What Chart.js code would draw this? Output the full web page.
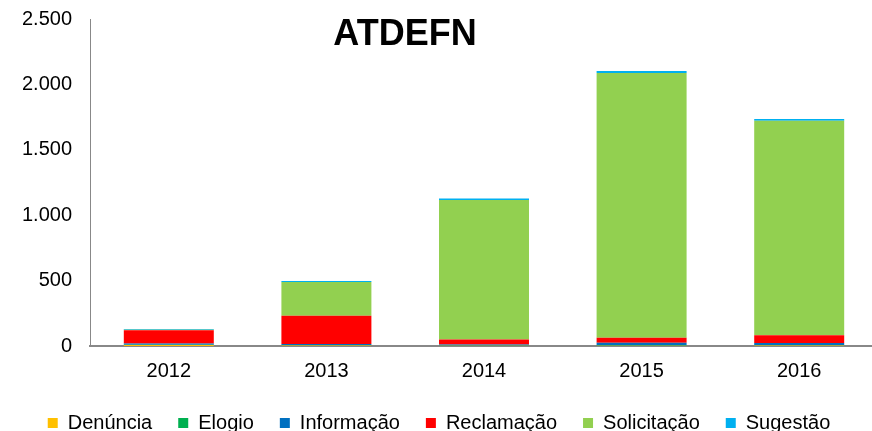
<!DOCTYPE html>
<html><head><meta charset="utf-8">
<script src="https://cdn.jsdelivr.net/npm/chart.js@4/dist/chart.umd.min.js"></script>
<style>html,body{margin:0;padding:0;overflow:hidden;background:#fff}#wrap{width:878px;height:431px;position:relative}</style>
</head><body><div id="wrap"><canvas id="c"></canvas></div>
<script>
const years = ['2012', '2013', '2014', '2015', '2016'];
const denuncia = [8, 3, 2, 2, 3];
const elogio = [2, 2, 2, 3, 2];
const informacao = [10, 10, 8, 20, 18];
const reclamacao = [100, 216, 38, 38, 60];
const solicitacao = [4, 258, 1066, 2024, 1640];
const sugestao = [6, 7, 12, 15, 12];
const yTicks = [0, 500, 1000, 1500, 2000, 2500];
const title = 'ATDEFN';

const FONT = '"Liberation Sans", Arial, sans-serif';
const titlePlugin = {
  id: 'titleText',
  afterDraw(chart) {
    const ctx = chart.ctx;
    ctx.save();
    ctx.font = 'bold 36px ' + FONT;
    ctx.fillStyle = '#000';
    ctx.textAlign = 'center';
    ctx.textBaseline = 'alphabetic';
    ctx.fillText(title, 405, 45);
    ctx.restore();
  }
};
const mk = (label, data, color) => ({label, data, backgroundColor: color, borderWidth: 0});
new Chart(document.getElementById('c'), {
  type: 'bar',
  data: {
    labels: years,
    datasets: [
      mk('Denúncia', denuncia, '#FFC000'),
      mk('Elogio', elogio, '#00B050'),
      mk('Informação', informacao, '#0070C0'),
      mk('Reclamação', reclamacao, '#FF0000'),
      mk('Solicitação', solicitacao, '#92D050'),
      mk('Sugestão', sugestao, '#00B0F0')
    ]
  },
  options: {
    responsive: true, maintainAspectRatio: false, animation: false,
    layout: {padding: {top: 19, left: 0, right: 0, bottom: -12}},
    datasets: {bar: {barPercentage: 0.571, categoryPercentage: 1}},
    scales: {
      x: {
        stacked: true,
        grid: {display: false},
        border: {display: true, color: '#888', width: 2},
        ticks: {color: '#000', font: {family: FONT, size: 20}, padding: 5},
        afterFit(s) { s.height = 41; }
      },
      y: {
        stacked: true, min: 0, max: 2500,
        afterBuildTicks(s) { s.ticks = yTicks.map(v => ({value: v})); },
        grid: {display: false},
        border: {display: true, color: '#888', width: 1},
        ticks: {color: '#000', font: {family: FONT, size: 20}, padding: 10,
          callback: v => v.toLocaleString('pt-BR')},
        afterFit(s) { s.width = 90; s.paddingTop = 0; s.paddingBottom = 0; }
      }
    },
    plugins: {
      legend: {
        position: 'bottom',
        labels: {boxWidth: 10, boxHeight: 10, padding: 26, color: '#000',
          font: {family: FONT, size: 20}}
      },
      tooltip: {enabled: false}
    }
  },
  plugins: [titlePlugin]
});
</script></body></html>
